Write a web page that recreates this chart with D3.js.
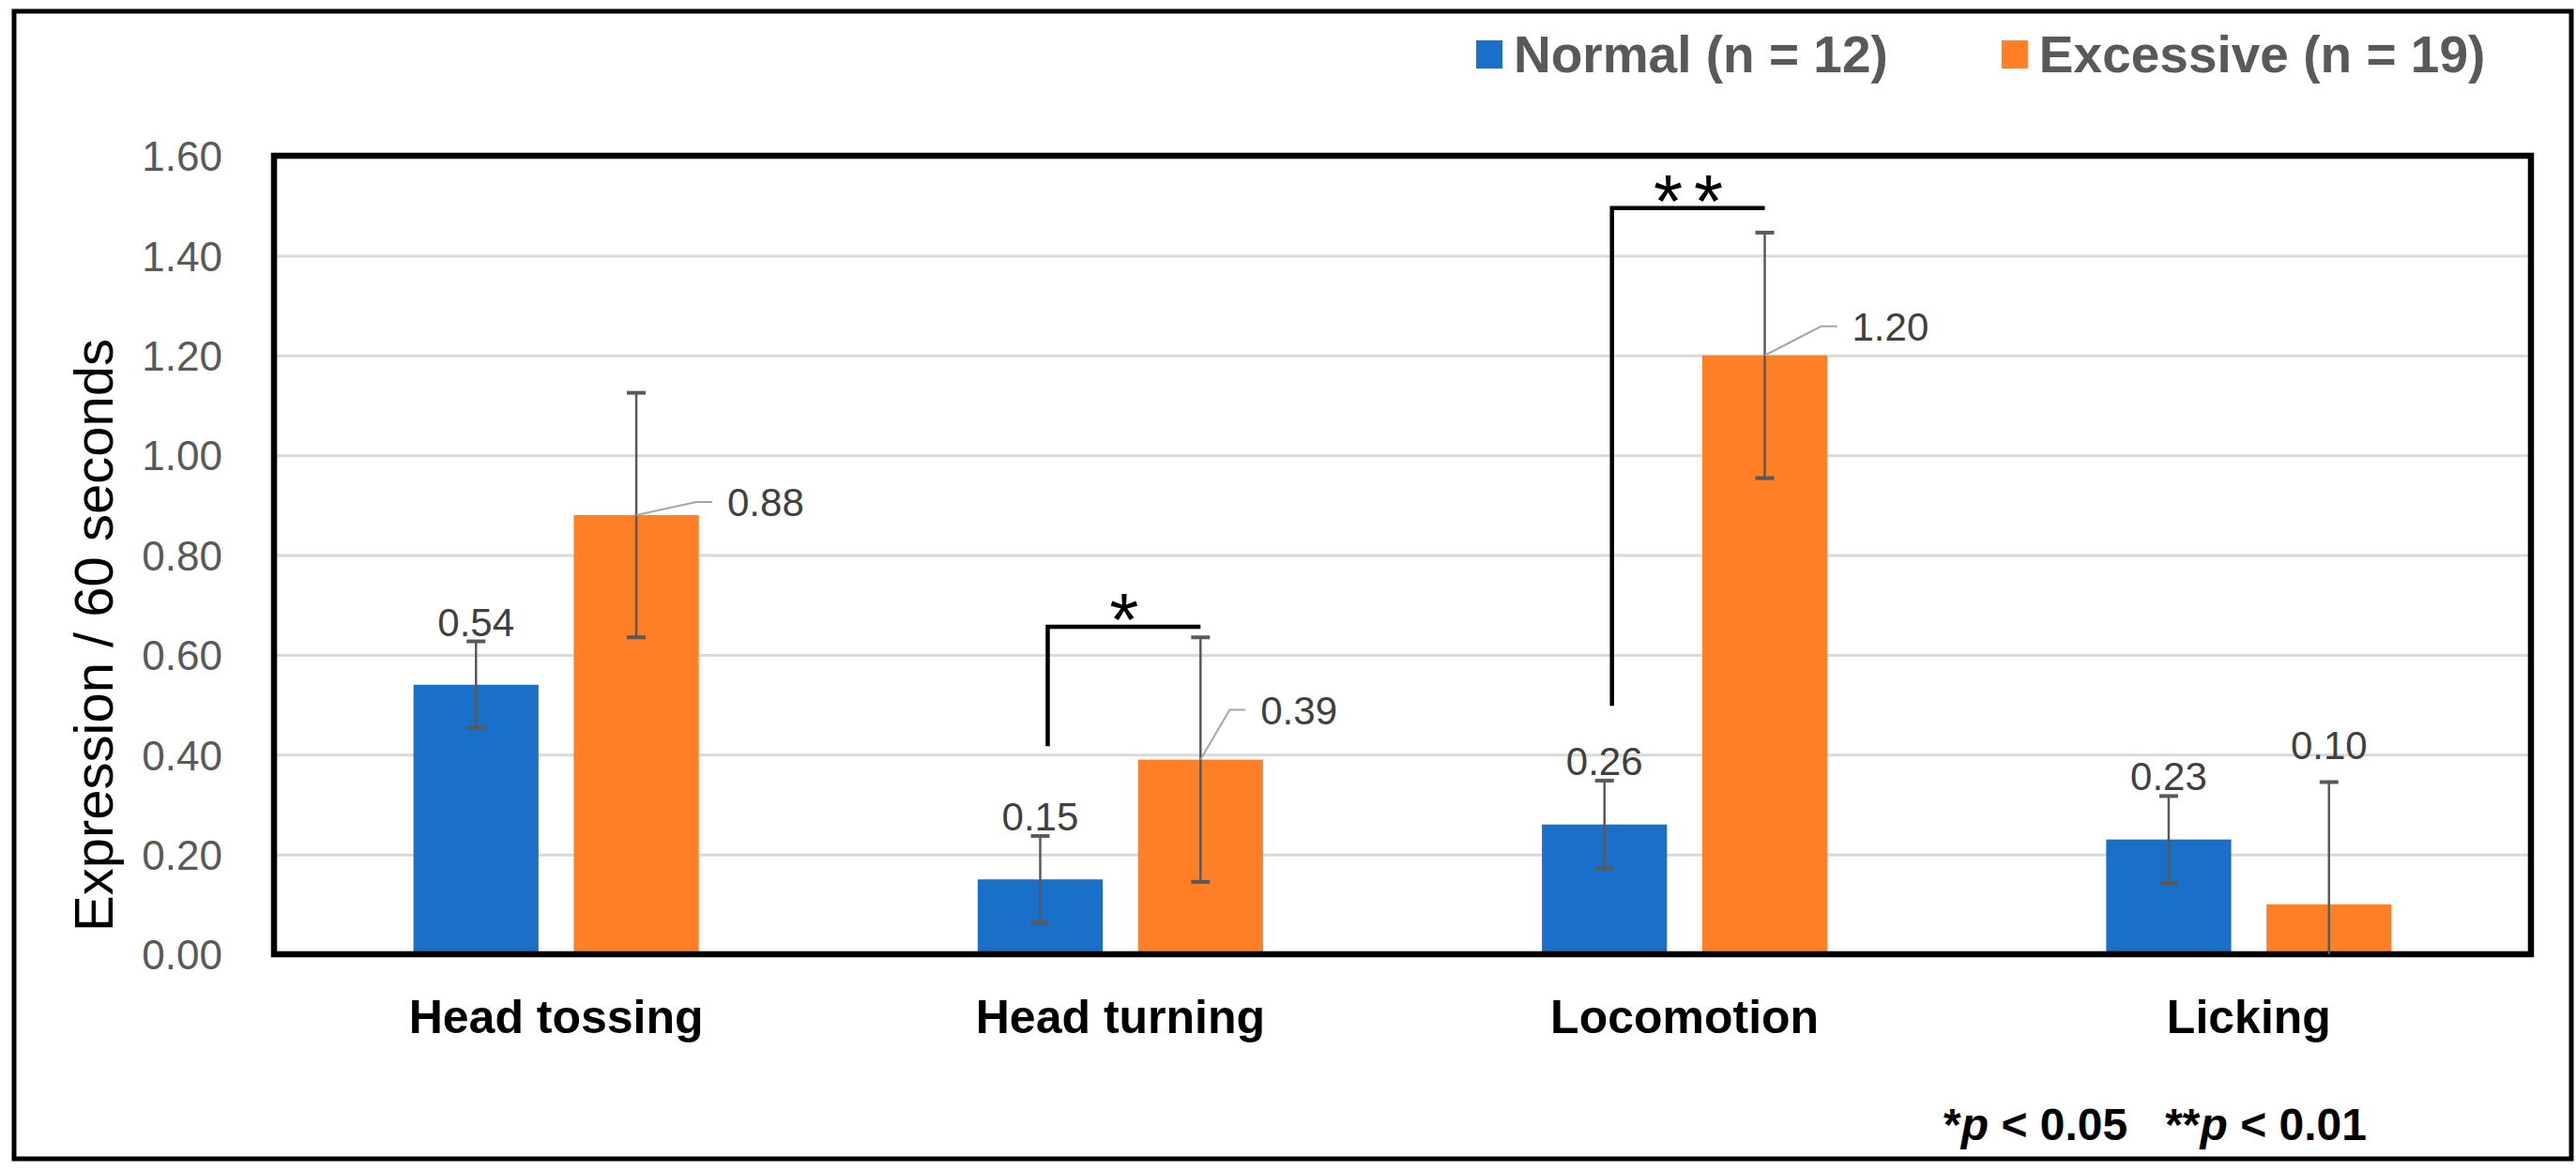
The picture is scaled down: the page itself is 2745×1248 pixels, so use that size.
<!DOCTYPE html>
<html>
<head>
<meta charset="utf-8">
<script src="https://cdn.jsdelivr.net/npm/d3@7"></script>
<style>
  html, body { margin: 0; padding: 0; background: #fff; }
  svg { display: block; font-family: "Liberation Sans", Arial, sans-serif; }
</style>
</head>
<body>
<svg id="chart" width="2745" height="1248"></svg>
<script>
// Data
const categories = ['Head tossing', 'Head turning', 'Locomotion', 'Licking'];
const seriesNames = ['Normal (n = 12)', 'Excessive (n = 19)'];
const normalMeans = [0.54, 0.15, 0.26, 0.23];
const excessiveMeans = [0.88, 0.39, 1.20, 0.10];
const normalErr = [0.087, 0.087, 0.088, 0.087];
const excessiveErr = [0.245, 0.245, 0.246, 0.245];
const yTicks = [0.00, 0.20, 0.40, 0.60, 0.80, 1.00, 1.20, 1.40, 1.60];
// significance brackets (heights in axis units)
const sigCats = ['Head turning', 'Locomotion'];
const sigMarks = ['*', '**'];
const sigTop = [0.656, 1.495];
const sigBottom = [0.417, 0.498];
const footnote = ['*', 'p', ' < 0.05   **', 'p', ' < 0.01'];

const colors = ['#1a70c8', '#ff7f27'];
const fontFamily = '"Liberation Sans", Arial, sans-serif';

const width = 2745;
const height = 1248;
const margin = { top: 166, right: 48, bottom: 231, left: 292 };
const innerWidth = width - margin.left - margin.right;
const innerHeight = height - margin.top - margin.bottom;

const svg = d3.select('#chart');

// Outer frame
svg.append('rect')
  .attr('x', 15).attr('y', 12)
  .attr('width', 2725).attr('height', 1223)
  .attr('fill', '#fff')
  .attr('stroke', '#000')
  .attr('stroke-width', 5);

const g = svg.append('g')
  .attr('transform', `translate(${margin.left},${margin.top})`);

// Scales
const x0 = d3.scaleBand()
  .domain(categories)
  .range([0, innerWidth])
  .paddingInner(0)
  .paddingOuter(0);

const x1 = d3.scaleBand()
  .domain(seriesNames)
  .range([0, x0.bandwidth()])
  .paddingInner(0.22)
  .paddingOuter(0.87);

const y = d3.scaleLinear()
  .domain([0, 1.6])
  .range([innerHeight, 0]);

// Gridlines
g.append('g')
  .call(d3.axisLeft(y).tickValues(yTicks.slice(1, -1)).tickSize(-innerWidth).tickFormat(''))
  .call((a) => a.select('.domain').remove())
  .call((a) => a.selectAll('line').attr('stroke', '#d9d9d9').attr('stroke-width', 3));

// Y tick labels
g.append('g')
  .attr('transform', 'translate(-55,0)')
  .call(d3.axisLeft(y).tickValues(yTicks).tickSize(0).tickPadding(0).tickFormat(d3.format('.2f')))
  .attr('font-size', 44)
  .attr('font-family', fontFamily)
  .call((a) => a.select('.domain').remove())
  .call((a) => a.selectAll('text')
    .attr('fill', '#595959')
    .attr('dy', '0.36em'));

// Category labels
g.append('g')
  .attr('transform', `translate(0,${innerHeight})`)
  .call(d3.axisBottom(x0).tickSize(0).tickPadding(84))
  .attr('font-size', 50)
  .attr('font-weight', 'bold')
  .attr('font-family', fontFamily)
  .call((a) => a.select('.domain').remove())
  .call((a) => a.selectAll('text')
    .attr('fill', '#000')
    .attr('dy', 0));

// Y axis title
svg.append('text')
  .attr('transform', 'translate(120,677) rotate(-90)')
  .attr('text-anchor', 'middle')
  .attr('font-size', 58)
  .attr('fill', '#000')
  .text('Expression / 60 seconds');

// Bars
const rows = categories.map((c, i) => ({
  cat: c,
  values: [
    { s: seriesNames[0], v: normalMeans[i], e: normalErr[i], k: 0 },
    { s: seriesNames[1], v: excessiveMeans[i], e: excessiveErr[i], k: 1 },
  ],
}));

const groups = g.append('g')
  .selectAll('g')
  .data(rows)
  .join('g')
  .attr('transform', (d) => `translate(${x0(d.cat)},0)`);

groups.selectAll('rect')
  .data((d) => d.values)
  .join('rect')
  .attr('x', (d) => x1(d.s))
  .attr('y', (d) => y(d.v))
  .attr('width', x1.bandwidth())
  .attr('height', (d) => y(0) - y(d.v))
  .attr('fill', (d) => colors[d.k]);

// Plot frame
g.append('rect')
  .attr('width', innerWidth)
  .attr('height', innerHeight)
  .attr('fill', 'none')
  .attr('stroke', '#000')
  .attr('stroke-width', 6.5);

// Error bars
const cx = (cat, s) => x0(cat) + x1(s) + x1.bandwidth() / 2;
const errG = g.append('g').attr('stroke', '#595959');
rows.forEach((r) => {
  r.values.forEach((d) => {
    const xc = cx(r.cat, d.s);
    const lo = Math.max(0, d.v - d.e);
    const hi = d.v + d.e;
    errG.append('line')
      .attr('x1', xc).attr('x2', xc)
      .attr('y1', y(hi)).attr('y2', y(lo))
      .attr('stroke-width', 2.5);
    errG.append('line')
      .attr('x1', xc - 10).attr('x2', xc + 10)
      .attr('y1', y(hi)).attr('y2', y(hi))
      .attr('stroke-width', 4);
    if (d.v - d.e > 0) {
      errG.append('line')
        .attr('x1', xc - 10).attr('x2', xc + 10)
        .attr('y1', y(lo)).attr('y2', y(lo))
        .attr('stroke-width', 4);
    }
  });
});

// Data labels
const fmt = d3.format('.2f');
const labelG = g.append('g')
  .attr('font-size', 42)
  .attr('font-family', fontFamily)
  .attr('fill', '#404040');

// Normal: above the error bar
rows.forEach((r) => {
  const d = r.values[0];
  labelG.append('text')
    .attr('x', cx(r.cat, d.s))
    .attr('y', y(d.v + d.e) - 6)
    .attr('text-anchor', 'middle')
    .text(fmt(d.v));
});

// Excessive: leader lines for the first three, plain for the last
const leaders = [[64, -14], [31, -53], [60, -31], null];
rows.forEach((r, i) => {
  const d = r.values[1];
  const xc = cx(r.cat, d.s);
  const yt = y(d.v);
  const ld = leaders[i];
  if (ld) {
    const ex = xc + ld[0];
    const ey = yt + ld[1];
    labelG.append('polyline')
      .attr('points', `${xc},${yt} ${ex},${ey} ${ex + 17},${ey}`)
      .attr('fill', 'none')
      .attr('stroke', '#a6a6a6')
      .attr('stroke-width', 2);
    labelG.append('text')
      .attr('x', ex + 33)
      .attr('y', ey)
      .attr('dy', '0.36em')
      .text(fmt(d.v));
  } else {
    labelG.append('text')
      .attr('x', xc)
      .attr('y', y(d.v + d.e) - 25)
      .attr('text-anchor', 'middle')
      .text(fmt(d.v));
  }
});

// Significance brackets
sigCats.forEach((c, i) => {
  const xa = cx(c, seriesNames[0]) + 8;
  const xb = cx(c, seriesNames[1]);
  const yTop = y(sigTop[i]);
  g.append('path')
    .attr('d', `M${xa},${y(sigBottom[i])}V${yTop}H${xb}`)
    .attr('fill', 'none')
    .attr('stroke', '#000')
    .attr('stroke-width', 4.5);
  g.append('text')
    .attr('x', (xa + xb) / 2 + (sigMarks[i].length - 1) * 6)
    .attr('y', yTop + 20)
    .attr('text-anchor', 'middle')
    .attr('font-size', 80)
    .attr('font-family', fontFamily)
    .attr('letter-spacing', sigMarks[i].length > 1 ? 12 : 0)
    .attr('fill', '#000')
    .text(sigMarks[i]);
});

// Legend
const legend = svg.append('g')
  .attr('transform', 'translate(1573,0)')
  .attr('font-size', 55)
  .attr('font-weight', 'bold')
  .attr('font-family', fontFamily);
let lx = 0;
seriesNames.forEach((s, i) => {
  legend.append('rect')
    .attr('x', lx).attr('y', 43)
    .attr('width', 28).attr('height', 30)
    .attr('fill', colors[i]);
  const t = legend.append('text')
    .attr('x', lx + 40)
    .attr('y', 77)
    .attr('fill', '#595959')
    .text(s);
  lx += 40 + t.node().getComputedTextLength() + 121;
});

// Footnote
const note = svg.append('text')
  .attr('x', 2522)
  .attr('y', 1215)
  .attr('text-anchor', 'end')
  .attr('font-size', 48)
  .attr('font-weight', 'bold')
  .attr('font-family', fontFamily)
  .attr('fill', '#000')
  .style('white-space', 'pre');
note.selectAll('tspan')
  .data(footnote)
  .join('tspan')
  .attr('font-style', (d) => d === 'p' ? 'italic' : 'normal')
  .text((d) => d);
</script>
</body>
</html>
